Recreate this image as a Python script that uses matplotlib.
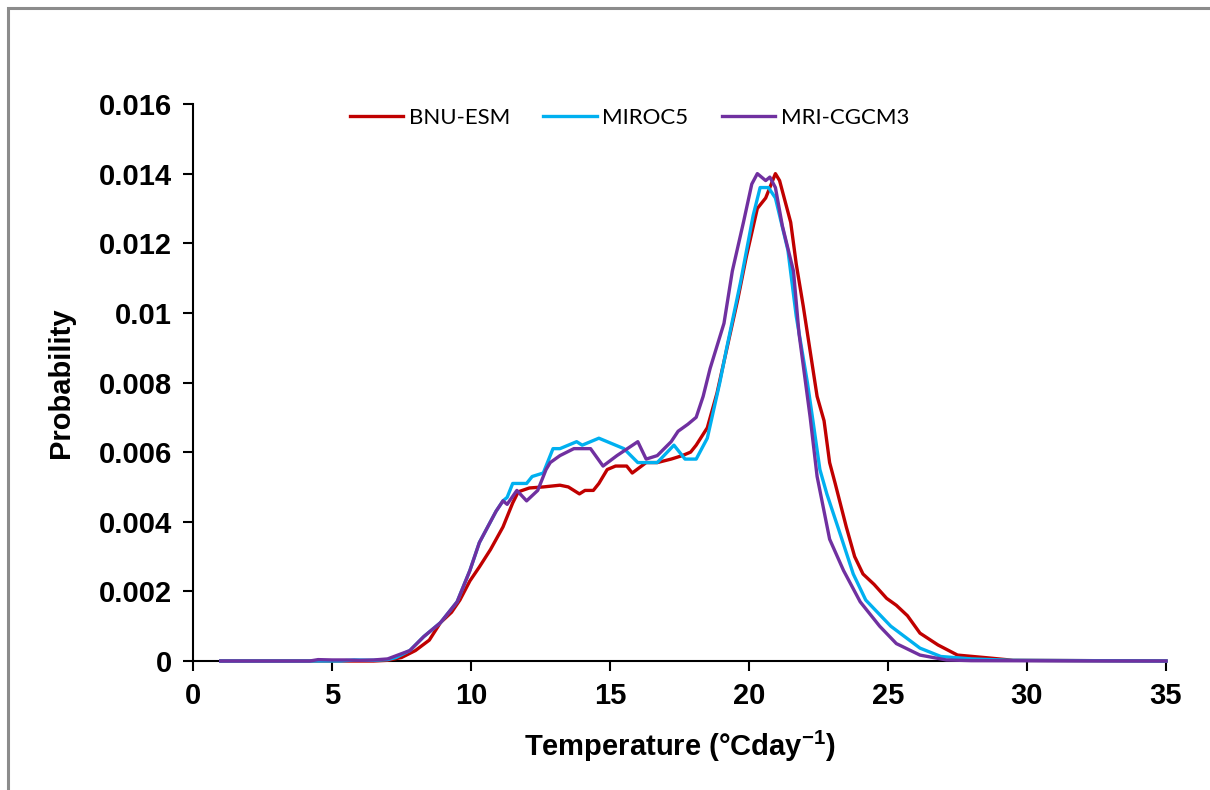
import matplotlib
matplotlib.use("Agg")
import matplotlib.pyplot as plt
from matplotlib.patches import Rectangle

plt.rcParams['font.family'] = ['Liberation Sans', 'DejaVu Sans']
plt.rcParams['mathtext.fontset'] = 'custom'
plt.rcParams['mathtext.rm'] = 'Liberation Sans:bold'
plt.rcParams['mathtext.bf'] = 'Liberation Sans:bold'

series_names = ["BNU-ESM", "MIROC5", "MRI-CGCM3"]
series_colors = ["#C00000", "#00B0F0", "#7030A0"]

bnu_t = [1, 6.5, 7.0, 7.5, 8.0, 8.5, 8.9, 9.3, 9.6, 9.96, 10.3, 10.7, 11.15, 11.5, 11.7,
         12.1, 12.6, 13.2, 13.5, 13.9, 14.1, 14.4, 14.6, 14.9, 15.2, 15.6, 15.8, 16.3, 16.7,
         17.2, 17.6, 17.9, 18.1, 18.5, 18.85, 19.1, 19.6, 19.9, 20.3, 20.6, 20.95, 21.1, 21.3,
         21.5, 21.7, 21.95, 22.2, 22.45, 22.7, 22.9, 23.1, 23.5, 23.8, 24.1, 24.5, 24.95, 25.3,
         25.7, 26.15, 26.8, 27.5, 28.6, 29.5, 35]
bnu_p = [0, 0, 0.00002, 0.0001, 0.0003, 0.0006, 0.0011, 0.0014, 0.00175, 0.0023, 0.0027,
         0.0032, 0.00385, 0.00454, 0.00486, 0.00497, 0.0050, 0.00505, 0.0050, 0.0048, 0.0049,
         0.0049, 0.0051, 0.0055, 0.0056, 0.0056, 0.0054, 0.0057, 0.0057, 0.0058, 0.0059, 0.006,
         0.0062, 0.0067, 0.0077, 0.0086, 0.0104, 0.0116, 0.013, 0.0133, 0.014, 0.0138, 0.0132,
         0.0126, 0.0114, 0.0102, 0.0089, 0.0076, 0.0069, 0.0057, 0.0051, 0.00385, 0.003, 0.0025,
         0.0022, 0.0018, 0.0016, 0.0013, 0.0008, 0.00046, 0.00017, 0.00009, 0.00002, 0]

miroc_t = [1, 5.3, 5.8, 6.5, 7.0, 7.3, 7.8, 8.3, 8.9, 9.5, 9.96, 10.3, 10.9, 11.15, 11.3, 11.5,
           12.0, 12.2, 12.6, 12.95, 13.2, 13.8, 14.0, 14.6, 14.9, 15.5, 16.0, 16.7, 17.3, 17.7,
           18.1, 18.5, 18.95, 19.2, 19.7, 20.15, 20.4, 20.7, 20.95, 21.4, 21.7, 22.1, 22.3, 22.55,
           22.8, 23.3, 23.75, 24.2, 25.1, 26.15, 26.9, 28.0, 29.4, 35]
miroc_p = [0, 0, 0.00003, 0.00002, 0.00004, 0.0001, 0.0003, 0.0007, 0.0011, 0.0017, 0.0026,
           0.0034, 0.0043, 0.0046, 0.0047, 0.0051, 0.0051, 0.0053, 0.0054, 0.0061, 0.0061, 0.0063,
           0.0062, 0.0064, 0.0063, 0.0061, 0.0057, 0.0057, 0.0062, 0.0058, 0.0058, 0.0064, 0.008,
           0.009, 0.0109, 0.0128, 0.0136, 0.0136, 0.0133, 0.0118, 0.0099, 0.008, 0.0069, 0.0055,
           0.0048, 0.0036, 0.0025, 0.00175, 0.001, 0.00037, 0.00013, 0.00006, 0.00002, 0]

mri_t = [1, 4.2, 4.5, 5.0, 5.5, 6.0, 6.5, 7.0, 7.3, 7.8, 8.3, 8.9, 9.5, 9.96, 10.3, 10.9, 11.15,
         11.3, 11.65, 12.0, 12.4, 12.7, 12.85, 13.2, 13.7, 14.3, 14.75, 15.25, 16.0, 16.3, 16.7,
         17.2, 17.45, 17.8, 18.1, 18.35, 18.6, 19.1, 19.4, 19.8, 20.1, 20.3, 20.6, 20.75, 20.95,
         21.2, 21.6, 21.8, 22.2, 22.45, 22.9, 23.4, 24.0, 24.7, 25.3, 26.15, 27.1, 28, 35]
mri_p = [0, 0, 0.00004, 0.00003, 0.00003, 0.00002, 0.00003, 0.00006, 0.00015, 0.0003, 0.0007,
         0.0011, 0.0017, 0.0026, 0.0034, 0.0043, 0.0046, 0.0045, 0.0049, 0.0046, 0.0049, 0.0055,
         0.0057, 0.0059, 0.0061, 0.0061, 0.0056, 0.0059, 0.0063, 0.0058, 0.0059, 0.0063, 0.0066,
         0.0068, 0.007, 0.0076, 0.0084, 0.0097, 0.0112, 0.0126, 0.0137, 0.014, 0.0138, 0.0139,
         0.0136, 0.0125, 0.0112, 0.0094, 0.007, 0.0053, 0.0035, 0.0026, 0.0017, 0.001, 0.0005,
         0.00017, 0.00003, 0.00001, 0]

x_ticks = [0, 5, 10, 15, 20, 25, 30, 35]
y_ticks = [0, 0.002, 0.004, 0.006, 0.008, 0.01, 0.012, 0.014, 0.016]
y_tick_labels = ["0", "0.002", "0.004", "0.006", "0.008", "0.01", "0.012", "0.014", "0.016"]

W, H = 1210, 790
fig = plt.figure(figsize=(W / 100, H / 100), dpi=100)
ax = fig.add_axes([193 / W, 1 - 661 / H, (1166 - 193) / W, (661 - 104) / H])

data = [(bnu_t, bnu_p), (miroc_t, miroc_p), (mri_t, mri_p)]
for (t, p), name, c in zip(data, series_names, series_colors):
    ax.plot(t, p, color=c, lw=2.4, label=name, clip_on=False, zorder=3)

ax.set_xlim(0, 35)
ax.set_ylim(0, 0.016)
ax.set_xticks(x_ticks)
ax.set_xticklabels([str(v) for v in x_ticks])
ax.set_yticks(y_ticks)
ax.set_yticklabels(y_tick_labels)
for s in ['top', 'right']:
    ax.spines[s].set_visible(False)
for s in ['left', 'bottom']:
    ax.spines[s].set_linewidth(1.5)
    ax.spines[s].set_color('black')
ax.tick_params(direction='out', length=7, width=1.5, pad=8, labelsize=21)
for lab in ax.get_xticklabels() + ax.get_yticklabels():
    lab.set_fontweight('bold')

ax.set_xlabel("Temperature (°Cday$^{-1}$)", fontsize=21, fontweight='bold', labelpad=14)
ax.set_ylabel("Probability", fontsize=21, fontweight='bold', labelpad=17)

leg = ax.legend(loc='center left', bbox_to_anchor=(350 / W, 1 - 118 / H),
                bbox_transform=fig.transFigure, ncol=3, frameon=False,
                borderpad=0, borderaxespad=0, handlelength=2.4, handletextpad=0.25,
                columnspacing=1.5, prop={'family': 'Lato', 'size': 16})

frame = Rectangle((8 / W, -0.2), 1.2, 1.2 - 8 / H,
                  transform=fig.transFigure, fill=False,
                  edgecolor='#8c8c8c', lw=2.2, clip_on=False)
fig.patches.append(frame)

fig.savefig("out.png", dpi=100, facecolor='white')
